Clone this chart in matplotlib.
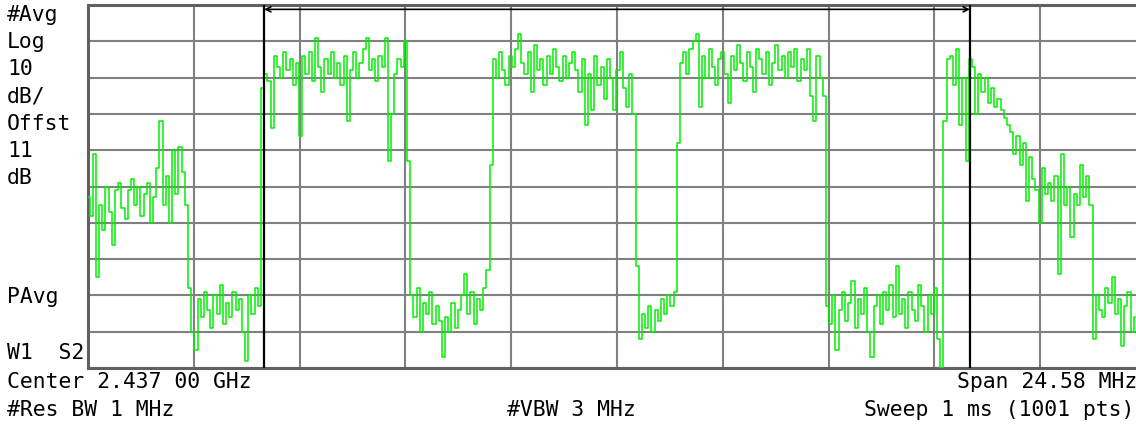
import numpy as np
import matplotlib.pyplot as plt

# Spectrum analyzer screen: 802.11 channel 6, Avg trace, Log 10 dB/div
center_mhz = 2437.0
span_mhz = 24.58
n_pts = 1001
step = 3  # every 3rd sweep point

# trace level in dB below top graticule line (10 dB/div)
lower_shoulder = [-53, -58, -41, -75, -55, -62, -50, -57, -66, -51,
                  -49, -56, -59, -51, -48, -55, -50, -58, -52, -49,
                  -60, -53, -45, -32, -55, -47, -60, -40, -52, -39,
                  -46, -55]
floor_1 = [-78, -90, -95, -81, -86, -79, -84, -89, -80, -85,
           -77, -88, -82, -86, -79, -84, -81, -90, -98, -80,
           -85, -78, -83]
burst_1 = [-23, -19, -21, -34, -14, -17, -20, -13, -18, -15,
           -22, -16, -36, -14, -19, -13, -21, -9, -17, -24,
           -15, -19, -13, -20, -16, -22, -14, -32, -18, -13,
           -20, -16, -12, -9, -18, -15, -21, -14, -17, -9,
           -43, -30, -19, -15, -17, -10, -43]
floor_2 = [-80, -86, -78, -90, -82, -85, -79, -88, -83, -87,
           -97, -86, -90, -82, -89, -84, -80, -74, -85, -79,
           -88, -81, -84, -78]
burst_2 = [-73, -44,
           -15, -20, -13, -18, -22, -14, -17, -12, -8, -16,
           -19, -13, -24, -11, -18, -15, -22, -14, -19, -12,
           -17, -21, -14, -20, -16, -13, -18, -24, -15, -33,
           -19, -29, -14, -22, -17, -26, -15, -20, -29, -18,
           -13, -23, -28, -19, -30]
floor_3 = [-72, -92, -85, -89, -83, -90, -84, -87, -81, -85, -80, -83, -79]
burst_3 = [-38,
           -16, -13, -19, -12, -10, -8, -28, -14, -20, -12,
           -17, -22, -15, -13, -19, -27, -14, -18, -11, -16,
           -21, -13, -17, -24, -12, -15, -19, -13, -22, -16,
           -11, -18, -14, -20, -13, -17, -12, -21, -15, -18,
           -12, -25, -32, -14, -20]
floor_4 = [-25,
           -83, -88, -80, -95, -84, -79, -87, -82, -76, -89,
           -81, -85, -78, -90, -97, -83, -80, -88, -79, -84,
           -77, -86, -72, -85, -81, -89, -79, -84, -87, -77,
           -83, -90, -80, -85, -78, -92, -100]
upper_shoulder = [-32,
                  -15, -14, -22, -12, -33, -20, -43, -15, -17, -30,
                  -19, -24, -20, -27, -23, -28, -26, -29, -31, -33,
                  -35, -41, -36, -44, -38, -54, -42, -48, -51, -60,
                  -45, -52, -49, -54, -47, -74, -41, -55, -50, -64,
                  -52, -55, -44, -53, -47, -55]
floor_5 = [-92, -80, -84, -86, -78, -82, -75, -85, -81, -94, -83, -79, -90, -86]

level = np.array(lower_shoulder + floor_1 + burst_1 + floor_2 + burst_2 +
                 floor_3 + burst_3 + floor_4 + upper_shoulder + floor_5)
pts = np.arange(0, len(level) * step, step)

f_start = center_mhz - span_mhz / 2
f_stop = center_mhz + span_mhz / 2
freq = f_start + pts * span_mhz / (n_pts - 1)

# marker pair
mk1 = 2428.8
mk2 = 2445.2

W, H = 1136, 429
fig = plt.figure(figsize=(W / 100, H / 100), dpi=100)
fig.patch.set_facecolor('white')

ax = fig.add_axes([88 / W, 61 / H, 1058 / W, 363 / H])
ax.set_xlim(f_start, f_stop)
ax.set_ylim(-100, 0)
ax.set_xticks(np.linspace(f_start, f_stop, 11))
ax.set_yticks(np.arange(-100, 1, 10))
ax.tick_params(length=0, labelbottom=False, labelleft=False)
ax.grid(True, color='#808080', lw=1.5)
ax.set_axisbelow(True)
for s in ax.spines.values():
    s.set_color('#606060')
    s.set_linewidth(2.2)

ax.plot(freq, level, color='#00f000', lw=1.1, drawstyle='steps-mid', zorder=3)

ax.axvline(mk1, color='black', lw=1.6, zorder=4)
ax.axvline(mk2, color='black', lw=1.6, zorder=4)
ax.annotate('', xy=(mk1, -1.2), xytext=(mk2, -1.2),
            arrowprops=dict(arrowstyle='<->', color='black', lw=1.2,
                            mutation_scale=9, shrinkA=0, shrinkB=0),
            zorder=4)

font = dict(family='DejaVu Sans Mono', fontsize=15.4, color='black')

def put(x, y, s, ha='left'):
    fig.text(x / W, 1 - y / H, s, ha=ha, va='center', **font)

left_labels = ['#Avg', 'Log', '10', 'dB/', 'Offst', '11', 'dB']
left_y = [15, 42, 69, 96, 124, 151, 178]
for s, y in zip(left_labels, left_y):
    put(7, y, s)
put(7, 297, 'PAvg')
put(7, 353, 'W1  S2')

put(7, 382, 'Center 2.437 00 GHz')
put(957, 382, 'Span 24.58 MHz')
put(7, 410, '#Res BW 1 MHz')
put(507, 410, '#VBW 3 MHz')
put(864, 410, 'Sweep 1 ms (1001 pts)')

plt.savefig('out.png', dpi=100, facecolor='white')
